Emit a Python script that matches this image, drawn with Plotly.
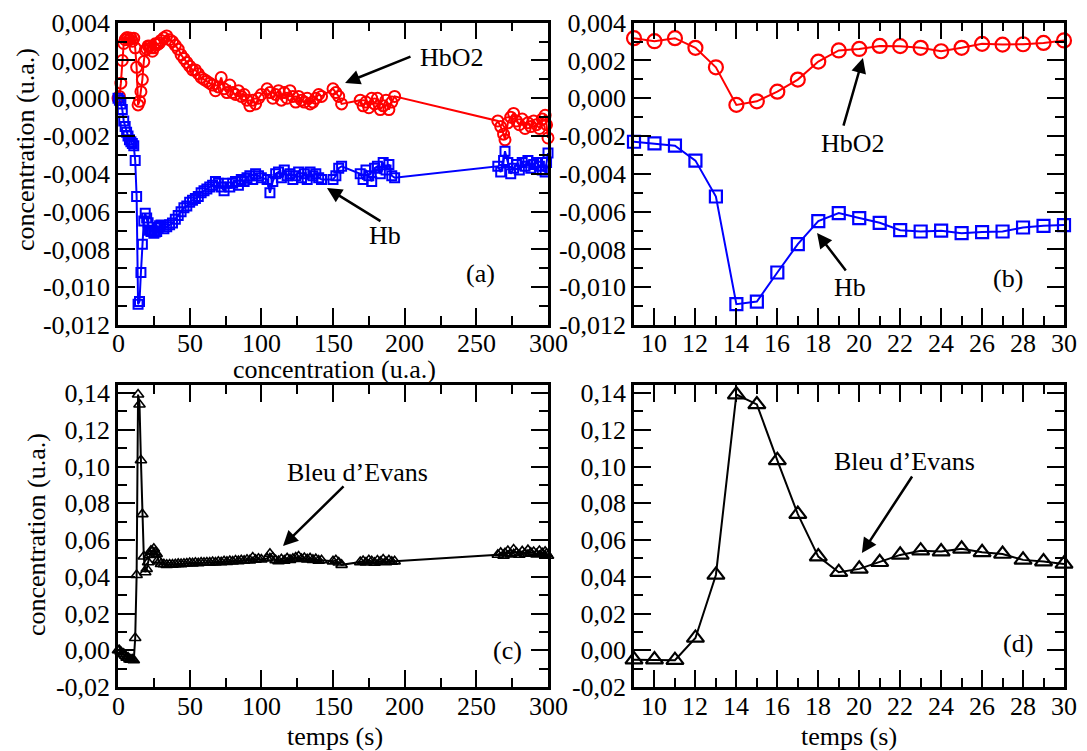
import plotly.graph_objects as go

# ---------------- data ----------------
# time segments (s)
t_seg1 = [0, 1, 2, 3, 4, 5, 6, 7, 8, 9, 10, 11, 12, 13, 14, 15, 16, 17, 18, 19, 20,
          21, 22, 23, 24, 25, 26, 27, 28, 29, 30]
t_seg2 = [32, 34, 36, 38, 40, 42, 44, 46, 48, 50, 52, 54, 56, 58, 60, 62, 64, 66, 68, 70,
          72, 74, 76, 78, 80, 82, 84, 86, 88, 90, 92, 94, 96, 98, 100]
t_seg3 = [104, 106, 108, 110, 112, 114, 116, 118, 120, 122, 124, 126, 128, 130, 132, 134,
          136, 138, 140, 142]
t_seg4 = [150, 152, 154, 156]
t_seg5 = [169, 171, 173, 175, 177, 179, 181, 183, 185, 187, 189, 191, 193]
t_seg6 = [265, 267, 269, 270, 272, 274, 276, 278, 280, 282, 284, 286, 288, 290, 292, 294,
          296, 298, 299, 300]

hbo2_seg1 = [0.0000, 0.0001, 0.0008, 0.0020, 0.0029, 0.0031, 0.0032, 0.0032, 0.0031, 0.00318,
             0.00302, 0.00318, 0.00267, 0.00164, -0.00035, -0.00016, 0.00035, 0.00099, 0.00194,
             0.00253, 0.00261, 0.00277, 0.00276, 0.00267, 0.00249, 0.00267, 0.00288, 0.00284,
             0.00286, 0.00293, 0.00306]
hbo2_seg2 = [0.0032, 0.0033, 0.0031, 0.0030, 0.0028, 0.0026, 0.0023, 0.0021, 0.0019, 0.0017,
             0.0015, 0.0015, 0.0013, 0.0011, 0.0010, 0.0009, 0.0008, 0.0007, 0.0004, 0.0006,
             0.0011, 0.0005, 0.0003, 0.0007, 0.0003, 0.0002, 0.0004, 0.0001, 0.0002, -0.0001,
             -0.0004, -0.0001, -0.0003, 0.0000, 0.0002]
hbo2_seg3 = [0.0005, 0.0003, 0.0000, 0.0002, 0.0004, -0.0001, 0.0003, 0.0000, 0.0004, 0.0001,
             -0.0002, 0.0001, -0.0001, -0.0002, 0.0000, -0.0003, -0.0002, 0.0000, 0.0002, 0.0001]
hbo2_seg4 = [0.0005, 0.0003, 0.0001, -0.0003]
hbo2_seg5 = [-0.0001, -0.0004, -0.0002, -0.0005, 0.0000, -0.0003, 0.0000, -0.0006, -0.0004,
             -0.0001, -0.0006, -0.0002, 0.0001]
hbo2_seg6 = [-0.0012, -0.0015, -0.0019, -0.0022, -0.0013, -0.0010, -0.0008, -0.0012, -0.0014,
             -0.0011, -0.0016, -0.0013, -0.0015, -0.0012, -0.0014, -0.0016, -0.0011, -0.0009,
             -0.0014, -0.0021]

hb_seg1 = [0.0000, -0.0001, -0.0003, -0.0006, -0.0012, -0.0015, -0.0018, -0.0020, -0.0022,
           -0.0023, -0.00239, -0.00251, -0.0033, -0.0052, -0.0109, -0.01076, -0.00922, -0.00772,
           -0.0065, -0.00608, -0.00634, -0.00659, -0.00698, -0.00705, -0.00701, -0.00714,
           -0.00708, -0.00705, -0.00684, -0.00675, -0.00671]
hb_seg2 = [-0.0069, -0.0068, -0.0067, -0.0066, -0.0064, -0.0062, -0.0060, -0.0058, -0.0057,
           -0.0055, -0.0054, -0.0053, -0.0052, -0.0050, -0.0049, -0.0048, -0.0047, -0.0046,
           -0.0044, -0.0045, -0.0047, -0.0049, -0.0045, -0.0047, -0.0045, -0.0044, -0.0046,
           -0.0043, -0.0044, -0.0042, -0.0041, -0.0043, -0.0040, -0.0041, -0.0042]
hb_seg3 = [-0.0043, -0.0050, -0.0044, -0.0040, -0.0039, -0.0042, -0.0038, -0.0041, -0.0040,
           -0.0043, -0.0041, -0.0039, -0.0042, -0.0040, -0.0043, -0.0039, -0.0041, -0.0040,
           -0.0042, -0.0043]
hb_seg4 = [-0.0043, -0.0041, -0.0037, -0.0036]
hb_seg5 = [-0.0040, -0.0043, -0.0038, -0.0041, -0.0044, -0.0037, -0.0036, -0.0040, -0.0034,
           -0.0038, -0.0035, -0.0041, -0.0042]
hb_seg6 = [-0.0036, -0.0039, -0.0033, -0.0028, -0.0034, -0.0040, -0.0037, -0.0035, -0.0038,
           -0.0034, -0.0036, -0.0033, -0.0037, -0.0035, -0.0034, -0.0036, -0.0038, -0.0039,
           -0.0034, -0.0029]

evans_seg1 = [0.000, 0.000, -0.001, -0.002, -0.002, -0.003, -0.004, -0.004, -0.005, -0.0051,
              -0.0051, -0.0054, 0.0067, 0.041, 0.1392, 0.1338, 0.1034, 0.0741, 0.051, 0.0425,
              0.0443, 0.0479, 0.0519, 0.0542, 0.0537, 0.0552, 0.0533, 0.0524, 0.0492, 0.0483,
              0.047]
evans_seg2 = [0.0468, 0.0465, 0.0467, 0.0466, 0.0468, 0.0470, 0.0469, 0.0471, 0.0472, 0.0475,
              0.0473, 0.0476, 0.0474, 0.0477, 0.0476, 0.0478, 0.0477, 0.0480, 0.0478, 0.0482,
              0.0479, 0.0484, 0.0481, 0.0486, 0.0483, 0.0488, 0.0485, 0.0490, 0.0487, 0.0492,
              0.0489, 0.0505, 0.0493, 0.0498, 0.0494]
evans_seg3 = [0.0500, 0.0525, 0.0505, 0.0490, 0.0485, 0.0495, 0.0488, 0.0500, 0.0492, 0.0498,
              0.0505, 0.0510, 0.0497, 0.0502, 0.0495, 0.0500, 0.0492, 0.0496, 0.0488, 0.0490]
evans_seg4 = [0.0484, 0.0490, 0.0478, 0.0465]
evans_seg5 = [0.0480, 0.0486, 0.0478, 0.0490, 0.0484, 0.0476, 0.0488, 0.0482, 0.0494, 0.0480,
              0.0489, 0.0482, 0.0484]
evans_seg6 = [0.0520, 0.0530, 0.0515, 0.0528, 0.0540, 0.0522, 0.0548, 0.0530, 0.0520, 0.0538,
              0.0525, 0.0545, 0.0530, 0.0535, 0.0522, 0.0540, 0.0528, 0.0536, 0.0525, 0.0515]

time_s = t_seg1 + t_seg2 + t_seg3 + t_seg4 + t_seg5 + t_seg6
hbo2 = hbo2_seg1 + hbo2_seg2 + hbo2_seg3 + hbo2_seg4 + hbo2_seg5 + hbo2_seg6
hb = hb_seg1 + hb_seg2 + hb_seg3 + hb_seg4 + hb_seg5 + hb_seg6
evans = evans_seg1 + evans_seg2 + evans_seg3 + evans_seg4 + evans_seg5 + evans_seg6
assert len(time_s) == len(hbo2) == len(hb) == len(evans)

# zoomed window (panels b, d)
zoom_t = [t for t in time_s if 9 <= t <= 30]
zoom_hbo2 = [v for t, v in zip(time_s, hbo2) if 9 <= t <= 30]
zoom_hb = [v for t, v in zip(time_s, hb) if 9 <= t <= 30]
zoom_evans = [v for t, v in zip(time_s, evans) if 9 <= t <= 30]

# tick labels
xt_full = [0, 50, 100, 150, 200, 250, 300]
xt_full_txt = ["0", "50", "100", "150", "200", "250", "300"]
xt_zoom = [10, 12, 14, 16, 18, 20, 22, 24, 26, 28, 30]
xt_zoom_txt = ["10", "12", "14", "16", "18", "20", "22", "24", "26", "28", "30"]
yt_hb = [-0.012, -0.010, -0.008, -0.006, -0.004, -0.002, 0.0, 0.002, 0.004]
yt_hb_txt = ["-0,012", "-0,010", "-0,008", "-0,006", "-0,004", "-0,002", "0,000", "0,002", "0,004"]
yt_ev = [-0.02, 0.0, 0.02, 0.04, 0.06, 0.08, 0.10, 0.12, 0.14]
yt_ev_txt = ["-0,02", "0,00", "0,02", "0,04", "0,06", "0,08", "0,10", "0,12", "0,14"]

# ---------------- figure ----------------
# the page body keeps its default 8px margin, so the figure is drawn 8px smaller
OFF = 8
W, H = 1087 - OFF, 751 - OFF
FONT = "Liberation Serif, Times New Roman, serif"
RED, BLUE, BLACK = "#ff0000", "#0000ff", "#000000"

def px_x(p):
    return (p - OFF) / W

def px_y(p):
    return 1 - (p - OFF) / H

fig = go.Figure()

def add(x, y, color, symbol, size, xa, ya, lw=2, mlw=1.6):
    fig.add_trace(go.Scatter(
        x=x, y=y, mode="lines+markers", xaxis=xa, yaxis=ya,
        line=dict(color=color, width=lw),
        marker=dict(symbol=symbol, size=size, color=color,
                    line=dict(color=color, width=mlw)),
        cliponaxis=False, showlegend=False, hoverinfo="skip"))

add(time_s, hbo2, RED, "circle-open", 11, "x", "y", mlw=2)
add(time_s, hb, BLUE, "square-open", 9, "x", "y", mlw=2)
add(zoom_t, zoom_hbo2, RED, "circle-open", 14, "x2", "y2", mlw=2.2)
add(zoom_t, zoom_hb, BLUE, "square-open", 12, "x2", "y2", mlw=2.2)
add(time_s, evans, BLACK, "triangle-up-open", 10, "x3", "y3", mlw=1.6)
add(zoom_t, zoom_evans, BLACK, "triangle-up-open", 15, "x4", "y4", mlw=2.2)

dom_x_left = [px_x(118), px_x(548)]
dom_x_right = [px_x(634), px_x(1064)]
dom_y_top = [px_y(325), px_y(22.7)]
dom_y_bot = [px_y(687), px_y(385)]

tickfont = dict(family=FONT, size=26, color=BLACK)

def axis(domain, anchor, rng, tv, tt, minor_dtick, minor_tick0, labels=True):
    return dict(domain=domain, anchor=anchor, range=rng, tickmode="array", tickvals=tv,
                ticktext=tt, ticks="inside", ticklen=17, tickwidth=2, tickcolor=BLACK,
                showline=True, linewidth=2.5, linecolor=BLACK, mirror="allticks",
                showgrid=False, zeroline=False, tickfont=tickfont, automargin=False,
                showticklabels=labels,
                minor=dict(dtick=minor_dtick, tick0=minor_tick0, ticks="inside", ticklen=9,
                           tickwidth=2, tickcolor=BLACK, showgrid=False))

fig.update_layout(
    width=W, height=H, margin=dict(l=0, r=0, t=0, b=0, pad=0), autosize=False,
    paper_bgcolor="white", plot_bgcolor="white",
    font=dict(family=FONT, size=26, color=BLACK),
    xaxis=axis(dom_x_left, "y", [0, 300], xt_full, xt_full_txt, 25, 0, labels=False),
    yaxis=axis(dom_y_top, "x", [-0.012, 0.004], yt_hb, yt_hb_txt, 0.001, 0),
    xaxis2=axis(dom_x_right, "y2", [9, 30], xt_zoom, xt_zoom_txt, 1, 9, labels=False),
    yaxis2=axis(dom_y_top, "x2", [-0.012, 0.004], yt_hb, yt_hb_txt, 0.001, 0),
    xaxis3=axis(dom_x_left, "y3", [0, 300], xt_full, xt_full_txt, 25, 0, labels=False),
    yaxis3=axis(dom_y_bot, "x3", [-0.02, 0.1444], yt_ev, yt_ev_txt, 0.01, 0),
    xaxis4=axis(dom_x_right, "y4", [9, 30], xt_zoom, xt_zoom_txt, 1, 9, labels=False),
    yaxis4=axis(dom_y_bot, "x4", [-0.02, 0.1444], yt_ev, yt_ev_txt, 0.01, 0),
)

ann = []

def text(x, y, s, xref, yref, angle=0):
    ann.append(dict(x=x, y=y, xref=xref, yref=yref, text=s, showarrow=False,
                    textangle=angle, xanchor="center", yanchor="middle",
                    font=dict(family=FONT, size=26, color=BLACK)))

def arrow(xr, yr, tip, tail):
    ann.append(dict(x=tip[0], y=tip[1], ax=tail[0], ay=tail[1], xref=xr, yref=yr,
                    axref=xr, ayref=yr, text="", showarrow=True, arrowhead=2,
                    arrowsize=1.2, arrowwidth=2.5, arrowcolor=BLACK))

# x tick labels (drawn just under each axis)
for xr, tv, tt, ypix in [("x", xt_full, xt_full_txt, 343), ("x2", xt_zoom, xt_zoom_txt, 343),
                         ("x3", xt_full, xt_full_txt, 706), ("x4", xt_zoom, xt_zoom_txt, 706)]:
    for v, s in zip(tv, tt):
        text(v, px_y(ypix), s, xr, "paper")

# axis titles
text(px_x(25), px_y(150), "concentration (u.a.)", "paper", "paper", -90)
text(px_x(36), px_y(535), "concentration (u.a.)", "paper", "paper", -90)
text(px_x(334), px_y(369), "concentration (u.a.)", "paper", "paper")
text(px_x(335), px_y(736), "temps (s)", "paper", "paper")
text(px_x(849), px_y(736), "temps (s)", "paper", "paper")

# panel (a)
text(233, 0.00218, "HbO2", "x", "y")
arrow("x", "y", (158.4, 0.00081), (205.1, 0.00224))
text(186.3, -0.00724, "Hb", "x", "y")
arrow("x", "y", (145.8, -0.00475), (184.2, -0.00655))
text(252.6, -0.00925, "(a)", "x", "y")

# panel (b)
text(19.7, -0.00237, "HbO2", "x2", "y2")
arrow("x2", "y2", (20.18, 0.00213), (19.21, -0.00153))
text(19.55, -0.00999, "Hb", "x2", "y2")
arrow("x2", "y2", (17.94, -0.00713), (19.4, -0.00919))
text(27.27, -0.00952, "(b)", "x2", "y2")

# panel (c)
text(167.4, 0.0965, "Bleu d\u2019Evans", "x3", "y3")
arrow("x3", "y3", (115.1, 0.0568), (158.4, 0.0900))
text(271.4, 0.0001, "(c)", "x3", "y3")

# panel (d)
text(22.23, 0.1025, "Bleu d\u2019Evans", "x4", "y4")
arrow("x4", "y4", (20.13, 0.0529), (22.63, 0.0954))
text(27.75, 0.0039, "(d)", "x4", "y4")

fig.update_layout(annotations=ann)

fig.write_html("out.html")
